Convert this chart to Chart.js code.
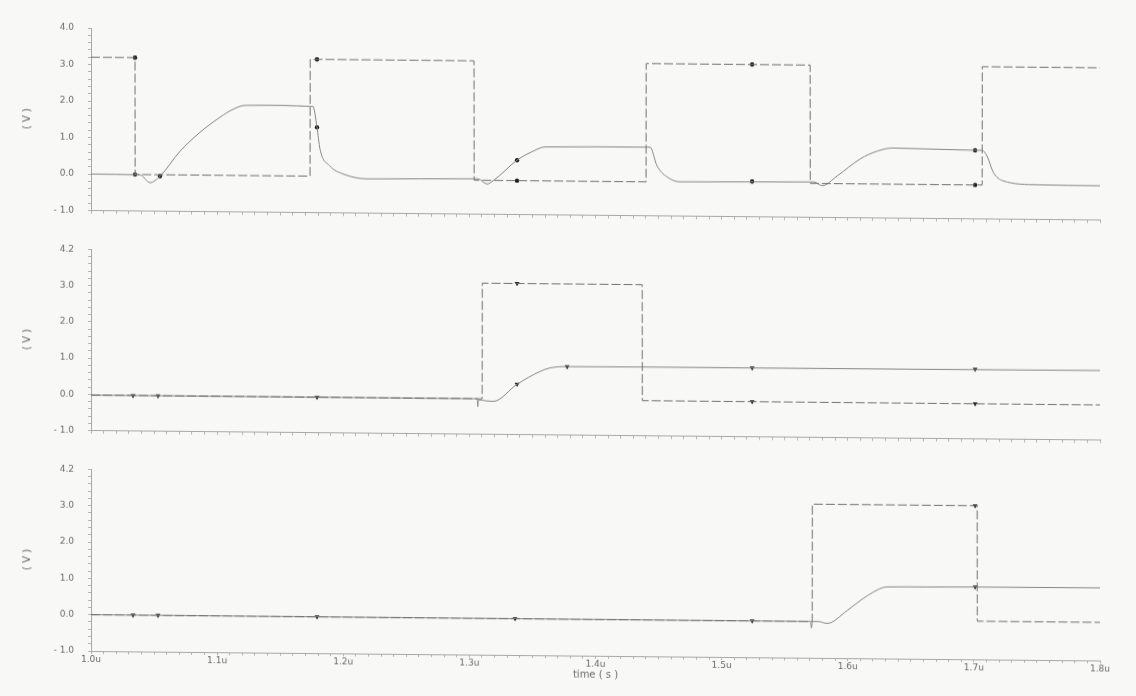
<!DOCTYPE html>
<html>
<head>
<meta charset="utf-8">
<script src="https://cdn.jsdelivr.net/npm/chart.js@4.4.1/dist/chart.umd.min.js"></script>
<style>
  html, body { margin: 0; padding: 0; background: #f8f8f6; }
  #sheet {
    position: relative;
    width: 1136px;
    height: 696px;
    transform: skewY(0.54deg);
    transform-origin: 91px 0;
  }
  .panel { position: absolute; left: 0; width: 1136px; }
</style>
</head>
<body>
<div id="sheet">
  <div class="panel" style="top:0px;height:230px"><canvas id="p1" width="1136" height="230"></canvas></div>
  <div class="panel" style="top:230px;height:220px"><canvas id="p2" width="1136" height="220"></canvas></div>
  <div class="panel" style="top:450px;height:246px"><canvas id="p3" width="1136" height="246"></canvas></div>
</div>
<script>
// time in microseconds, voltage in volts
const xLabels = ["1.0u", "1.1u", "1.2u", "1.3u", "1.4u", "1.5u", "1.6u", "1.7u", "1.8u"];
const yLabels1 = ["- 1.0", "0.0", "1.0", "2.0", "3.0", "4.0"];
const yLabels2 = ["- 1.0", "0.0", "1.0", "2.0", "3.0", "4.2"];
const yLabels3 = ["- 1.0", "0.0", "1.0", "2.0", "3.0", "4.2"];

// panel 1
const clk1T = [1.0, 1.0349, 1.035, 1.1737, 1.1738, 1.3037, 1.3038, 1.4401, 1.4402, 1.5702, 1.5703, 1.7066, 1.7067, 1.8];
const clk1V = [3.2, 3.2, 0.0, 0.0, 3.2, 3.2, -0.07, -0.07, 3.17, 3.17, -0.07, -0.07, 3.17, 3.17];
const out1T = [1.0, 1.0389, 1.0468, 1.0547, 1.0706, 1.0864, 1.1023, 1.1126, 1.1221, 1.1523, 1.1737, 1.176, 1.1792, 1.1816, 1.1895, 1.1998, 1.2189, 1.3037, 1.3069, 1.314, 1.3188, 1.3378, 1.3505, 1.36, 1.4409, 1.4433, 1.4488, 1.4568, 1.4671, 1.5702, 1.5734, 1.5797, 1.5916, 1.6098, 1.6233, 1.636, 1.6994, 1.7066, 1.7105, 1.7153, 1.7232, 1.7502, 1.8];
const out1V = [0.0, -0.01, -0.22, -0.04, 0.65, 1.17, 1.59, 1.81, 1.92, 1.93, 1.91, 1.91, 1.34, 0.74, 0.28, 0.07, -0.06, -0.03, -0.03, -0.17, -0.08, 0.49, 0.74, 0.86, 0.88, 0.88, 0.37, 0.07, -0.06, -0.03, -0.03, -0.13, 0.14, 0.61, 0.83, 0.92, 0.88, 0.88, 0.72, 0.29, 0.05, -0.05, -0.06];
const mark1T = [1.0349, 1.0349, 1.0547, 1.1792, 1.1792, 1.3378, 1.3378, 1.5242, 1.5242, 1.701, 1.701];
const mark1V = [3.2, 0.0, -0.04, 3.2, 1.34, -0.07, 0.49, 3.17, -0.03, -0.07, 0.88];

// panel 2
const clk2T = [1.0, 1.3101, 1.3102, 1.437, 1.4371, 1.8];
const clk2V = [-0.02, -0.02, 3.17, 3.17, -0.03, -0.03];
const out2T = [1.0, 1.3062, 1.3066, 1.3072, 1.314, 1.3188, 1.3378, 1.3561, 1.364, 1.3775, 1.5147, 1.8];
const out2V = [-0.02, -0.02, -0.24, -0.05, -0.08, -0.09, 0.39, 0.75, 0.85, 0.89, 0.9, 0.92];
const mark2T = [1.0333, 1.0531, 1.1792, 1.3378, 1.3378, 1.3775, 1.5242, 1.5242, 1.701, 1.701];
const mark2V = [-0.02, -0.02, -0.02, 3.17, 0.39, 0.89, 0.9, -0.03, 0.92, -0.03];

// panel 3
const clk3T = [1.0, 1.5718, 1.5719, 1.7026, 1.7027, 1.8];
const clk3V = [0.0, 0.0, 3.23, 3.23, 0.05, 0.05];
const out3T = [1.0, 1.5705, 1.5712, 1.572, 1.5765, 1.5837, 1.5995, 1.6154, 1.6312, 1.663, 1.701, 1.8];
const out3V = [0.0, 0.0, -0.18, 0.0, 0.0, -0.05, 0.31, 0.72, 0.97, 0.98, 0.99, 1.0];
const mark3T = [1.0333, 1.0531, 1.1792, 1.3362, 1.5242, 1.701, 1.701];
const mark3V = [0.0, 0.0, 0.0, 0.0, 0.0, 3.23, 0.99];

const textColor = "#6a6a6a";
const axisColor = "#a8a8a8";
const font = { family: "DejaVu Sans", size: 9 };

function pts(ts, vs) {
  return ts.map((t, i) => ({ x: t, y: vs[i] }));
}

function createPanel(id, p) {
  const ctx = document.getElementById(id).getContext("2d");
  return new Chart(ctx, {
    type: "line",
    data: {
      datasets: [
        {
          label: "in",
          data: pts(p.clkT, p.clkV),
          borderColor: "#707070",
          borderWidth: 1,
          borderDash: [9, 3],
          pointRadius: 0,
          tension: 0,
        },
        {
          label: "out",
          data: pts(p.outT, p.outV),
          borderColor: "#858585",
          borderWidth: 1,
          pointRadius: 0,
          cubicInterpolationMode: "monotone",
        },
        {
          label: "markers",
          type: "scatter",
          data: pts(p.markT, p.markV),
          pointStyle: p.markStyle,
          rotation: p.markStyle === "triangle" ? 180 : 0,
          pointRadius: p.markStyle === "triangle" ? 2.8 : 2.2,
          backgroundColor: "#1e1e1e",
          borderColor: "#1e1e1e",
          borderWidth: 0,
        },
      ],
    },
    options: {
      responsive: false,
      animation: false,
      events: [],
      layout: { padding: { left: 0, right: 36, top: p.padTop, bottom: 0 } },
      plugins: { legend: { display: false }, tooltip: { enabled: false } },
      scales: {
        x: {
          type: "linear",
          min: 1.0,
          max: 1.8,
          border: { display: true, color: axisColor, dash: [1, 2] },
          grid: { drawOnChartArea: false, tickLength: 3, color: "#b4b4b4" },
          ticks: {
            stepSize: 0.01,
            autoSkip: false,
            maxRotation: 0,
            padding: 0,
            color: textColor,
            font: font,
            callback: (v, i) => (p.showX && i % 10 === 0 ? xLabels[i / 10] : ""),
          },
          title: {
            display: p.showX,
            text: "time ( s )",
            color: textColor,
            font: { family: "DejaVu Sans", size: 10 },
            padding: 20,
          },
          afterFit: (scale) => {
            scale.height = p.axisH;
          },
        },
        y: {
          min: -1,
          max: 4,
          border: { display: true, color: axisColor, dash: [1, 2] },
          grid: { drawOnChartArea: false, tickLength: 3, color: "#b4b4b4" },
          ticks: {
            stepSize: 0.2,
            autoSkip: false,
            padding: 14,
            color: textColor,
            font: font,
            callback: (v, i) => (i % 5 === 0 ? p.yLabels[i / 5] : ""),
          },
          title: {
            display: true,
            text: "( V )",
            color: textColor,
            font: { family: "DejaVu Sans", size: 10 },
            padding: { top: 21, bottom: 0 },
          },
          afterFit: (scale) => {
            scale.width = 91;
          },
        },
      },
    },
  });
}

createPanel("p1", {
  padTop: 28, axisH: 18, showX: false, yLabels: yLabels1, markStyle: "circle",
  clkT: clk1T, clkV: clk1V, outT: out1T, outV: out1V, markT: mark1T, markV: mark1V,
});
createPanel("p2", {
  padTop: 18, axisH: 18, showX: false, yLabels: yLabels2, markStyle: "triangle",
  clkT: clk2T, clkV: clk2V, outT: out2T, outV: out2V, markT: mark2T, markV: mark2V,
});
createPanel("p3", {
  padTop: 17, axisH: 45, showX: true, yLabels: yLabels3, markStyle: "triangle",
  clkT: clk3T, clkV: clk3V, outT: out3T, outV: out3V, markT: mark3T, markV: mark3V,
});
</script>
</body>
</html>
